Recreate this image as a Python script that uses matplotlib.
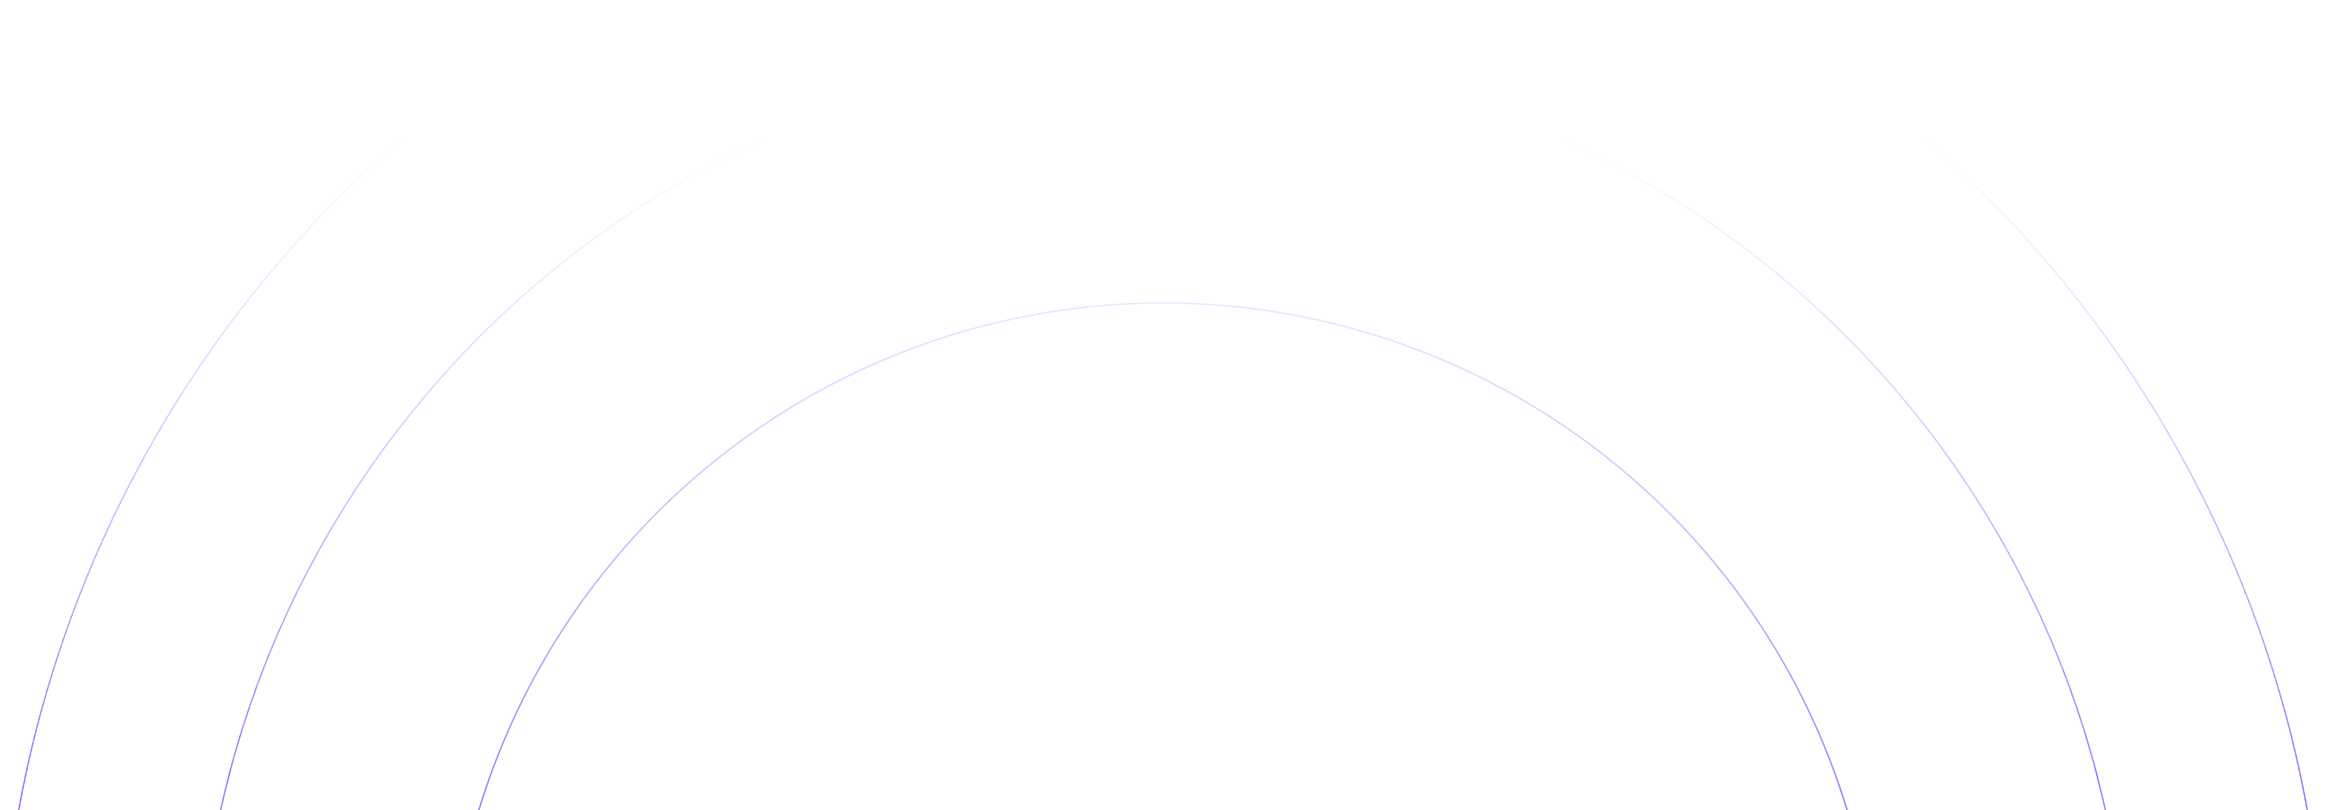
import numpy as np
import matplotlib
matplotlib.use("Agg")
from matplotlib import pyplot as plt
from matplotlib.collections import LineCollection

# canvas size in pixels
W, H = 2328, 810

# three concentric rings, centre sits below the picture
center_x = 1163
center_y = 1018
radii = [715, 965, 1163]

# stroke colour at the bottom, fades out toward the top
ring_color = np.array([123, 97, 255]) / 255.0
fade_top = 135     # fully faded above this y (pixels)
fade_bottom = 810  # full colour here

fig = plt.figure(figsize=(W / 100, H / 100), dpi=100)
ax = fig.add_axes([0, 0, 1, 1])
ax.set_xlim(0, W)
ax.set_ylim(H, 0)
ax.axis("off")

white = np.array([1.0, 1.0, 1.0])
for r in radii:
    theta = np.linspace(np.pi, 2 * np.pi, 3000)
    xs = center_x + r * np.cos(theta)
    ys = center_y + r * np.sin(theta)
    pts = np.column_stack([xs, ys]).reshape(-1, 1, 2)
    segs = np.concatenate([pts[:-1], pts[1:]], axis=1)
    ymid = (ys[:-1] + ys[1:]) / 2
    t = np.clip((ymid - fade_top) / (fade_bottom - fade_top), 0, 1)
    t = t ** 1.2
    cols = white[None, :] * (1 - t[:, None]) + ring_color[None, :] * t[:, None]
    lc = LineCollection(segs, colors=cols, linewidths=1.0, capstyle="butt")
    ax.add_collection(lc)

fig.savefig("out.png", dpi=100, facecolor="white")
